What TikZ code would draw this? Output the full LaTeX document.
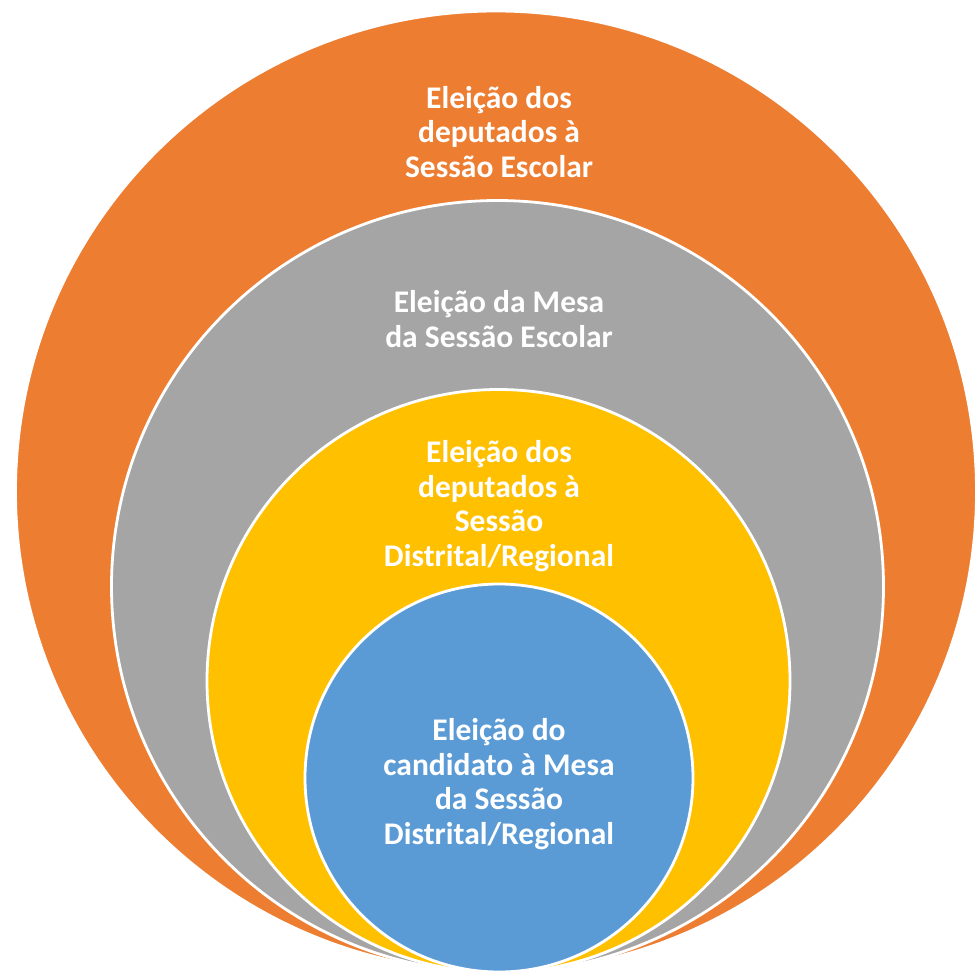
\documentclass[tikz,border=0pt]{standalone}
\usepackage{fontspec}
\setmainfont{Carlito}
\definecolor{corange}{HTML}{ED7D31}
\definecolor{cgray}{HTML}{A5A5A5}
\definecolor{cyellow}{HTML}{FFC000}
\definecolor{cblue}{HTML}{5B9BD5}
\begin{document}
\begin{tikzpicture}[x=1pt,y=-1pt,
  ring/.style={draw=white,line width=2.8pt},
  lbl/.style={text=white,align=center,font=\fontsize{31.5}{34.5}\selectfont\bfseries,inner sep=0pt}]
\useasboundingbox (0,0) rectangle (977,974);
\clip (0,0) rectangle (977,974);
\fill[white] (0,0) rectangle (977,974);
\filldraw[ring,fill=corange] (496,491.5) circle[radius=480.5pt];
\filldraw[ring,fill=cgray] (497.5,586.5) circle[radius=386pt];
\filldraw[ring,fill=cyellow] (498.5,681) circle[radius=291.5pt];
\filldraw[ring,fill=cblue] (499,778) circle[radius=194pt];
\node[lbl] (t1) at (499,132) {Eleição dos\\deputados à\\Sessão Escolar};
\node[lbl] (t2) at (499,319) {Eleição da Mesa\\da Sessão Escolar};
\node[lbl] (t3) at (499,506) {Eleição dos\\deputados à\\Sessão\\Distrital/Regional};
\node[lbl] (t4) at (499,784) {Eleição do\\candidato à Mesa\\da Sessão\\Distrital/Regional};
\end{tikzpicture}
\end{document}
